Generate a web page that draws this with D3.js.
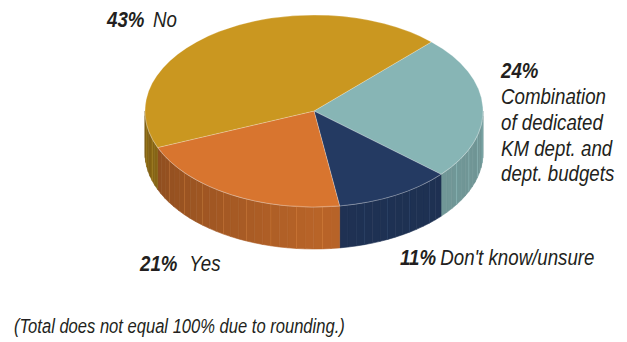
<!DOCTYPE html>
<html>
<head>
<meta charset="utf-8">
<script src="https://cdn.jsdelivr.net/npm/d3@7/dist/d3.min.js"></script>
<style>
  html, body { margin: 0; padding: 0; background: #fff; }
  text { font-family: "Liberation Sans", Arial, sans-serif; font-style: italic; fill: #231f20; }
  .pct { font-weight: bold; }
</style>
</head>
<body>
<div id="chart"></div>
<script>
const categories = ["Combination of dedicated KM dept. and dept. budgets", "Don't know/unsure", "Yes", "No"];
const values = [24, 11, 21, 43];
const colors = ["#87b5b5", "#243a62", "#d8752f", "#ca9720"];
const comboLines = ["Combination", "of dedicated", "KM dept. and", "dept. budgets"];
const footnote = "(Total does not equal 100% due to rounding.)";

const width = 627;
const height = 342;

const cx = 314, cy = 111;
const rx = 169, ry = 96;
const depth = 42;
const squeeze = 0.85; // condensed look

const svg = d3.select("#chart")
  .append("svg")
  .attr("width", width)
  .attr("height", height);

const pie = d3.pie()
  .sort(null)
  .startAngle(44 * Math.PI / 180)
  .endAngle(44 * Math.PI / 180 + 2 * Math.PI);

const arcs = pie(values);

// point on the top ellipse, angle clockwise from 12 o'clock
function pt(a, dy) {
  return [cx + rx * Math.sin(a), cy - ry * Math.cos(a) + (dy || 0)];
}

// shade factor for the side wall: darker on the left
const shade = d3.scaleLinear()
  .domain([Math.PI / 2, Math.PI, 1.5 * Math.PI])
  .range([0.55, 0.45, 1.35])
  .clamp(true);

const sides = svg.append("g");

arcs.forEach((d, i) => {
  // visible front part, angles between 90 and 270 degrees (mod 360)
  [0, 2 * Math.PI].forEach(off => {
    const a0 = Math.max(d.startAngle - off, Math.PI / 2);
    const a1 = Math.min(d.endAngle - off, 1.5 * Math.PI);
    if (a1 <= a0) return;
    const n = Math.max(1, Math.ceil((a1 - a0) / (3 * Math.PI / 180)));
    const step = (a1 - a0) / n;
    for (let k = 0; k < n; k++) {
      const s = a0 + k * step, e = s + step;
      const c = d3.color(colors[i]).darker(shade((s + e) / 2));
      const p = d3.path();
      const p0 = pt(s), p1 = pt(e), p2 = pt(e, depth), p3 = pt(s, depth);
      p.moveTo(p0[0], p0[1]);
      p.lineTo(p1[0], p1[1]);
      p.lineTo(p2[0], p2[1]);
      p.lineTo(p3[0], p3[1]);
      p.closePath();
      sides.append("path")
        .attr("d", p.toString())
        .attr("fill", c)
        .attr("stroke", c)
        .attr("stroke-width", 0.6);
    }
    // thin light facet lines
    for (let k = 2; k < n; k += 3) {
      const a = a0 + k * step;
      const t = pt(a), b = pt(a, depth);
      sides.append("line")
        .attr("x1", t[0]).attr("y1", t[1])
        .attr("x2", b[0]).attr("y2", b[1])
        .attr("stroke", d3.color(colors[i]).brighter(0.9))
        .attr("stroke-opacity", 0.3)
        .attr("stroke-width", 0.7);
    }
  });
});

// highlight along the top rim of the wall
const rim = d3.line()(d3.range(90, 270.5, 2).map(a => pt(a * Math.PI / 180)));
svg.append("path")
  .attr("d", rim)
  .attr("fill", "none")
  .attr("stroke", "#fff")
  .attr("stroke-opacity", 0.3)
  .attr("stroke-width", 1);

const arc = d3.arc()
  .innerRadius(0)
  .outerRadius(rx);

svg.append("g")
  .attr("transform", `translate(${cx},${cy}) scale(1,${ry / rx})`)
  .selectAll("path")
  .data(arcs)
  .enter()
  .append("path")
  .attr("d", arc)
  .attr("fill", (d, i) => colors[i])
  .attr("stroke", "#fff")
  .attr("stroke-opacity", 0.4)
  .attr("stroke-width", 0.6)
  .attr("vector-effect", "non-scaling-stroke");

// labels
const fs = 22;

function txt(x, y, size) {
  return svg.append("text")
    .attr("transform", `translate(${x},${y}) scale(${squeeze},1)`)
    .attr("font-size", size);
}

function label(x, y, pct, name, gap) {
  const t = txt(x, y, fs);
  t.append("tspan").attr("class", "pct").text(pct + "%");
  t.append("tspan").attr("dx", gap).text(name);
}

label(107, 27, values[3], "No", 10);
label(140, 271, values[2], "Yes", 14);
label(400, 265, values[1], categories[1], 5);

txt(501, 78, fs).attr("class", "pct").text(values[0] + "%");

comboLines.forEach((d, i) => {
  txt(501, 104 + i * 25.8, fs).text(d);
});

txt(14, 333, 19.5).text(footnote);
</script>
</body>
</html>
